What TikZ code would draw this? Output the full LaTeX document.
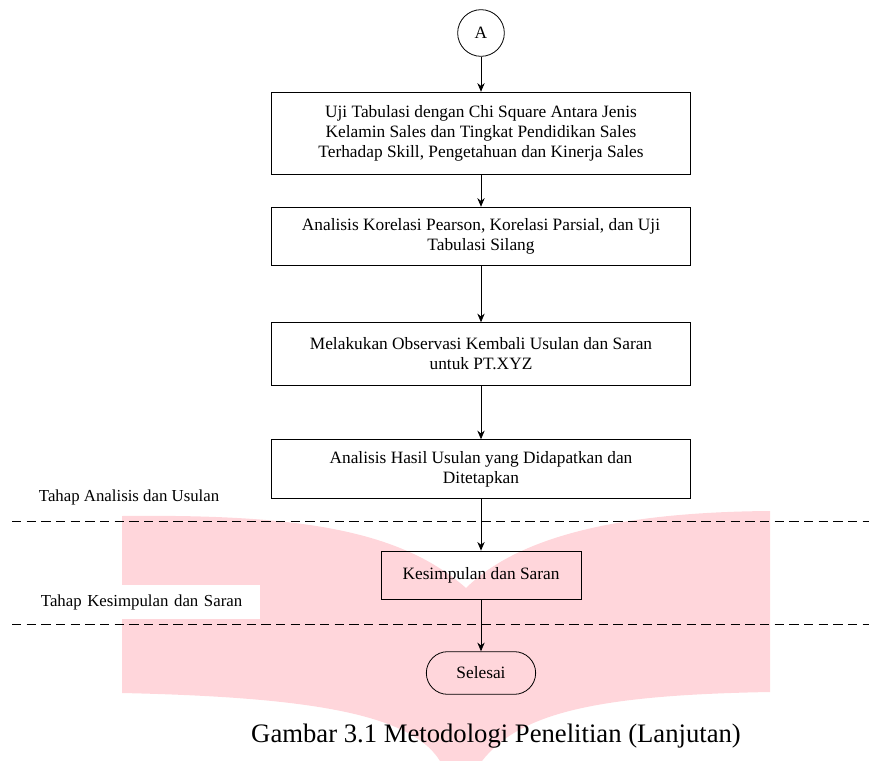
\documentclass[tikz,border=0pt]{standalone}
\usepackage{fontspec}
\setmainfont{Liberation Serif}
\usetikzlibrary{arrows.meta}
\definecolor{wmpink}{HTML}{FFD6DB}
\begin{document}
\begin{tikzpicture}[>={Stealth[length=6.5pt,width=5.5pt]}, x=0.75pt, y=-0.75pt,
    proc/.style={draw, line width=0.6pt, minimum width=314pt, minimum height=44pt,
        align=center, inner sep=2pt, font=\fontsize{13}{15}\selectfont},
    phase/.style={anchor=west, align=left, inner sep=2pt, font=\fontsize{12.6}{14}\selectfont},
    sep/.style={dashed, line width=0.7pt, dash pattern=on 7pt off 4pt},
    flow/.style={->, line width=0.6pt}]
    \useasboundingbox (0,0) rectangle (869,761);

    % Watermark in the background
    \fill[wmpink] (122,516) .. controls (300,514) and (400,530) .. (466,588)
        .. controls (525,530) and (640,512) .. (770,511) -- (770,692)
        .. controls (600,695) and (520,712) .. (482,761) -- (440,761)
        .. controls (410,712) and (300,697) .. (122,693) -- cycle;

    % Nodes of the flow
    \node[draw, circle, line width=0.6pt, minimum size=35pt, inner sep=0pt,
        font=\fontsize{13}{15}\selectfont] (A) at (481,33) {A};
    \node[proc, minimum height=62pt] (uji) at (481,133.5)
        {Uji Tabulasi dengan Chi Square Antara Jenis\\
         Kelamin Sales dan Tingkat Pendidikan Sales\\
         Terhadap Skill, Pengetahuan dan Kinerja Sales};
    \node[proc] (korelasi) at (481,236.5)
        {Analisis Korelasi Pearson, Korelasi Parsial, dan Uji\\ Tabulasi Silang};
    \node[proc, minimum height=47pt] (observasi) at (481,354)
        {Melakukan Observasi Kembali Usulan dan Saran\\ untuk PT.XYZ};
    \node[proc] (hasil) at (481,469)
        {Analisis Hasil Usulan yang Didapatkan dan\\ Ditetapkan};
    \node[proc, minimum width=150pt, minimum height=36pt] (simpulan) at (481,575)
        {Kesimpulan dan Saran};
    \node[draw, line width=0.6pt, rounded corners=16pt, minimum width=82pt,
        minimum height=32pt, font=\fontsize{13}{15}\selectfont] (selesai) at (481,673) {Selesai};

    % Phase labels and separators
    \node[phase] (tahapA) at (36,497) {Tahap Analisis dan Usulan};
    \node[phase, fill=white, text width=162pt, minimum height=26pt] (tahapK) at (38,602)
        {Tahap Kesimpulan dan Saran};
    \coordinate (sepA1) at (12,521);
    \coordinate (sepA2) at (869,521);
    \coordinate (sepK1) at (12,624);
    \coordinate (sepK2) at (869,624);
    \draw[sep] (sepA1) -- (sepA2);
    \draw[sep] (sepK1) -- (sepK2);

    % Arrows
    \draw[flow] (A) -- (uji);
    \draw[flow] (uji) -- (korelasi);
    \draw[flow] (korelasi) -- (observasi);
    \draw[flow] (observasi) -- (hasil);
    \draw[flow] (hasil) -- (simpulan);
    \draw[flow] (simpulan) -- (selesai);

    % Caption
    \node[font=\fontsize{20}{24}\selectfont] (caption) at (496,736)
        {Gambar 3.1 Metodologi Penelitian (Lanjutan)};
\end{tikzpicture}
\end{document}
